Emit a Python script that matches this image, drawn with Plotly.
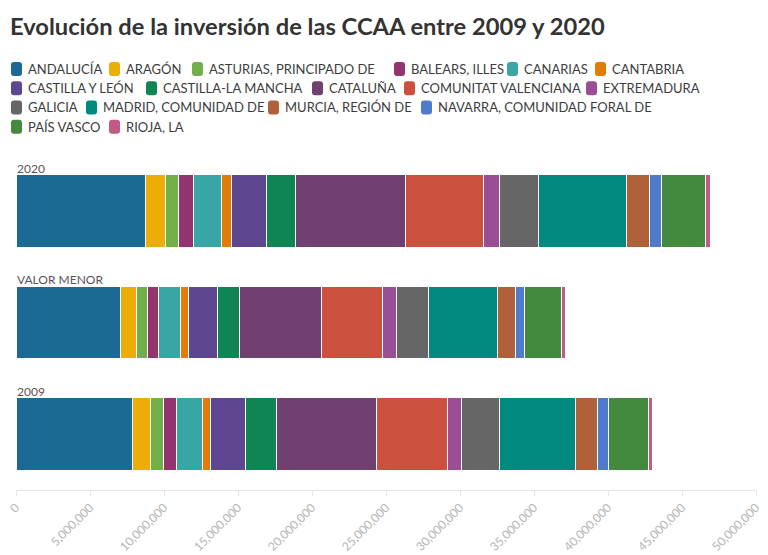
import plotly.graph_objects as go

# ---------------- data ----------------
regions = ["ANDALUCÍA", "ARAGÓN", "ASTURIAS, PRINCIPADO DE", "BALEARS, ILLES", "CANARIAS",
           "CANTABRIA", "CASTILLA Y LEÓN", "CASTILLA-LA MANCHA", "CATALUÑA",
           "COMUNITAT VALENCIANA", "EXTREMADURA", "GALICIA", "MADRID, COMUNIDAD DE",
           "MURCIA, REGIÓN DE", "NAVARRA, COMUNIDAD FORAL DE", "PAÍS VASCO", "RIOJA, LA"]

rows = ["2009", "VALOR MENOR", "2020"]

values_2020 = [8780000, 1300000, 900000, 1010000, 1920000, 680000, 2360000, 1910000, 7470000,
               5240000, 1130000, 2630000, 5920000, 1570000, 790000, 2990000, 340000]
values_menor = [7090000, 1030000, 760000, 740000, 1470000, 560000, 1960000, 1470000, 5540000,
                4120000, 970000, 2190000, 4630000, 1200000, 610000, 2550000, 240000]
values_2009 = [7900000, 1220000, 850000, 900000, 1710000, 590000, 2360000, 2050000, 6800000,
               4790000, 950000, 2520000, 5180000, 1490000, 700000, 2750000, 270000]

colors = ["#1D6996", "#EDAD08", "#73AF48", "#94346E", "#38A6A5", "#E17C05", "#5F4690",
          "#0F8554", "#6F4070", "#CC503E", "#994E95", "#666666", "#008A7F", "#AF6239",
          "#4F7BCB", "#448A3E", "#BF5B86"]

tick_vals = [0, 5000000, 10000000, 15000000, 20000000, 25000000, 30000000, 35000000,
             40000000, 45000000, 50000000]

title_text = "Evolución de la inversión de las CCAA entre 2009 y 2020"

# legend layout (row index, left pixel of swatch) – layout only
legend_pos = [(0, 11), (0, 109), (0, 192), (0, 394), (0, 507), (0, 595),
              (1, 11), (1, 146), (1, 312), (1, 404), (1, 586),
              (2, 11), (2, 86), (2, 268), (2, 421),
              (3, 11), (3, 109)]
legend_row_y = [69, 88.3, 107.5, 126.8]

# ---------------- figure ----------------
W, H = 768, 555
ML, MR, MT, MB = 16, 12, 155, 65
PW, PH = W - ML - MR, H - MT - MB
FONT = "Lato"

fig = go.Figure()
for i, reg in enumerate(regions):
    fig.add_trace(go.Bar(
        y=rows,
        x=[values_2009[i], values_menor[i], values_2020[i]],
        name=reg,
        orientation="h",
        marker=dict(color=colors[i], line=dict(color="white", width=1)),
        showlegend=False,
    ))

def px2paper(px, py):
    return (px - ML) / PW, 1 - (py - MT) / PH

shapes = []
annotations = []
sw_w, sw_h, rad = 11, 14, 3
for i, reg in enumerate(regions):
    r, x0 = legend_pos[i]
    cy = legend_row_y[r]
    x1 = x0 + sw_w
    y0 = cy - sw_h / 2
    y1 = cy + sw_h / 2

    def P(a, b):
        u, v = px2paper(a, b)
        return f"{u:.5f},{v:.5f}"
    path = (f"M {P(x0 + rad, y0)} L {P(x1 - rad, y0)} Q {P(x1, y0)} {P(x1, y0 + rad)} "
            f"L {P(x1, y1 - rad)} Q {P(x1, y1)} {P(x1 - rad, y1)} "
            f"L {P(x0 + rad, y1)} Q {P(x0, y1)} {P(x0, y1 - rad)} "
            f"L {P(x0, y0 + rad)} Q {P(x0, y0)} {P(x0 + rad, y0)} Z")
    shapes.append(dict(type="path", xref="paper", yref="paper", path=path,
                       fillcolor=colors[i], line=dict(width=0)))
    tx, ty = px2paper(x0 + 15, cy)
    annotations.append(dict(xref="paper", yref="paper", x=tx, y=ty, text=reg,
                            showarrow=False, xanchor="left", yanchor="middle",
                            font=dict(family=FONT, size=13, color="#3d3d3d")))

# row labels above each bar
for j, lab in enumerate(rows):
    annotations.append(dict(xref="x", yref="y", x=0, y=j + 0.325, text=lab,
                            showarrow=False, xanchor="left", yanchor="bottom",
                            xshift=-1, yshift=-3,
                            font=dict(family=FONT, size=12, color="#555555")))

fig.update_layout(
    width=W, height=H,
    barmode="stack",
    bargap=0.35,
    plot_bgcolor="white", paper_bgcolor="white",
    margin=dict(l=ML, r=MR, t=MT, b=MB, pad=0, autoexpand=False),
    font=dict(family=FONT, color="#444444"),
    title=dict(text=f"<b>{title_text}</b>", xref="container", yref="container",
               x=10 / W, xanchor="left", y=1 - 27 / H, yanchor="middle",
               font=dict(family=FONT, size=23.7, color="#333333")),
    shapes=shapes,
    annotations=annotations,
    xaxis=dict(range=[0, 50000000], tickvals=tick_vals, tickformat=",", tickangle=-45,
               automargin=False,
               showgrid=False, zeroline=False, showline=True, linecolor="#e6e6e6",
               linewidth=1, ticks="outside", ticklen=5, tickcolor="#e6e6e6",
               tickfont=dict(family=FONT, size=12, color="#b5b5b5")),
    yaxis=dict(showticklabels=False, showgrid=False, zeroline=False, ticks="",
               automargin=False,
               categoryorder="array", categoryarray=rows, range=[-0.5, 2.5]),
)

fig.write_html("out.html", config={"displayModeBar": False},
               post_script="document.body.style.margin='0';document.body.style.overflow='hidden';")
